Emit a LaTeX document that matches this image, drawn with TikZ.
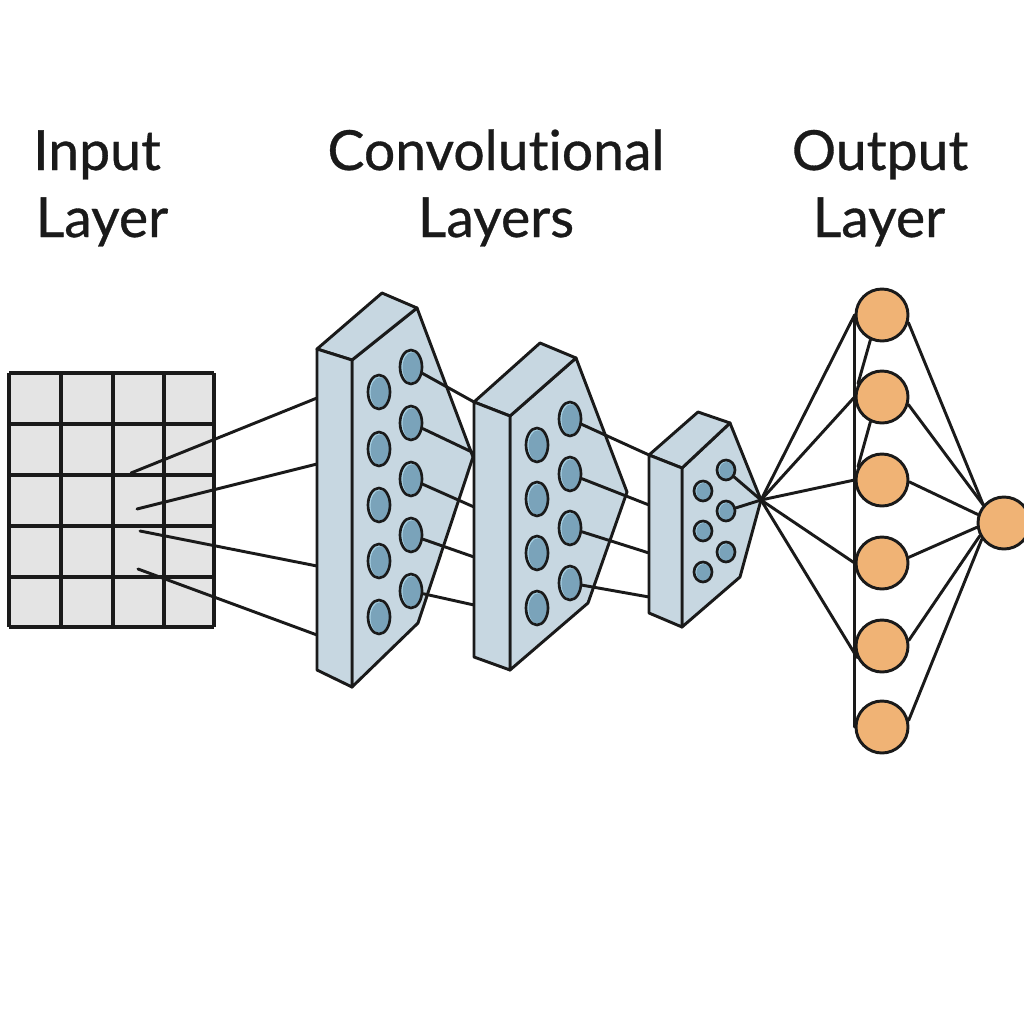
\documentclass[tikz,border=0pt]{standalone}
\usepackage{fontspec}
\setmainfont{Lato}[Ligatures={NoCommon,NoDiscretionary,NoContextual},FakeBold=0.6]
\usetikzlibrary{shapes.geometric}
\definecolor{face}{HTML}{C7D7E1}
\definecolor{cell}{HTML}{E4E4E4}
\definecolor{unitdark}{HTML}{7AA3BA}
\definecolor{unitrim}{HTML}{A9D3E6}
\definecolor{orng}{HTML}{F0B375}
\definecolor{ink}{HTML}{1A1A1A}
\begin{document}
\begin{tikzpicture}[x=0.75pt,y=-0.75pt,line join=round,
  blockface/.style={fill=face,draw=ink,line width=2.2pt},
  unitbig/.style={ellipse,draw=ink,line width=2pt,fill=unitrim,minimum width=16.5pt,minimum height=25.5pt,inner sep=0pt,
    path picture={\fill[unitdark] ([xshift=0.7pt,yshift=-0.5pt]path picture bounding box.center) ellipse [x radius=7pt,y radius=11.5pt];}},
  unitsmall/.style={ellipse,draw=ink,line width=2pt,fill=unitrim,minimum width=13.5pt,minimum height=15pt,inner sep=0pt,
    path picture={\fill[unitdark] ([xshift=0.6pt,yshift=-0.4pt]path picture bounding box.center) ellipse [x radius=5.6pt,y radius=6.4pt];}},
  neuron/.style={circle,draw=ink,line width=2.2pt,fill=orng,minimum size=39pt,inner sep=0pt},
  wire/.style={draw=ink,line width=2.2pt,line cap=round},
  gridline/.style={draw=ink,line width=2.4pt},
  title/.style={font=\fontsize{41.5}{48}\selectfont,text=ink,anchor=base,inner sep=0pt}]
\useasboundingbox (0,0) rectangle (1024,1024);
\clip (0,0) rectangle (1024,1024);
\fill[white] (0,0) rectangle (1024,1024);

% titles
\node[title] (tin1) at (97,170) {Input};
\node[title] (tin2) at (102,237) {Layer};
\node[title] (tcv1) at (496,170) {Convolutional};
\node[title] (tcv2) at (496,237) {Layers};
\node[title] (tout1) at (880,170) {Output};
\node[title] (tout2) at (879,237) {Layer};

% input grid
\fill[cell] (9,373) rectangle (214,627);
\foreach \gx in {9,61,113,164,214} \draw[gridline] (\gx,373) -- (\gx,627);
\foreach \gy in {373,424,475,526,577,627} \draw[gridline] (9,\gy) -- (214,\gy);

% grid wires
\coordinate (g1) at (131,473); \coordinate (a1) at (317,398);
\coordinate (g2) at (137,509); \coordinate (a2) at (317,464);
\coordinate (g3) at (140,531); \coordinate (a3) at (317,566);
\coordinate (g4) at (138,569); \coordinate (a4) at (317,635);
\foreach \i in {1,...,4} \draw[wire] (g\i) -- (a\i);

% conv block 1
\draw[blockface] (352,360) -- (417,308) -- (473,457) -- (418,623) -- (352,687) -- cycle;
\draw[blockface] (317,349) -- (382,293) -- (417,308) -- (352,360) -- cycle;
\draw[blockface] (317,349) -- (352,360) -- (352,687) -- (317,670) -- cycle;
\foreach \y [count=\i] in {392,449,505,561,617} \node[unitbig] (c1l\i) at (379,\y) {};
\foreach \y [count=\i] in {367,423,479,535,591} \node[unitbig] (c1r\i) at (411,\y) {};
\coordinate (b1) at (474,402);
\coordinate (b2) at (474,453);
\coordinate (b3) at (474,507);
\coordinate (b4) at (474,557);
\coordinate (b5) at (474,605);
\foreach \i in {1,...,5} \draw[wire] (c1r\i) -- (b\i);

% conv block 2
\draw[blockface] (510,416) -- (576,358) -- (627,492) -- (588,603) -- (510,670) -- cycle;
\draw[blockface] (474,402) -- (540,343) -- (576,358) -- (510,416) -- cycle;
\draw[blockface] (474,402) -- (510,416) -- (510,670) -- (474,657) -- cycle;
\foreach \y [count=\i] in {445,499,553,608} \node[unitbig] (c2l\i) at (537,\y) {};
\foreach \y [count=\i] in {419,474,528,583} \node[unitbig] (c2r\i) at (570,\y) {};
\coordinate (d1) at (649,455);
\coordinate (d2) at (649,505);
\coordinate (d3) at (649,553);
\coordinate (d4) at (649,597);
\foreach \i in {1,...,4} \draw[wire] (c2r\i) -- (d\i);

% conv block 3
\coordinate (hub) at (761,500);
\draw[blockface] (682,468) -- (730,423) -- (hub) -- (740,577) -- (682,627) -- cycle;
\draw[blockface] (649,455) -- (698,412) -- (730,423) -- (682,468) -- cycle;
\draw[blockface] (649,455) -- (682,468) -- (682,627) -- (649,613) -- cycle;
\foreach \y [count=\i] in {491,531,572} \node[unitsmall] (c3l\i) at (703,\y) {};
\foreach \y [count=\i] in {470,511,552} \node[unitsmall] (c3r\i) at (726,\y) {};
\draw[wire] (c3r1) -- (hub);
\draw[wire] (c3r2) -- (hub);

% output layer neurons
\foreach \y [count=\i] in {315,397,480,563,646,727} \node[neuron] (h\i) at (882,\y) {};
\node[neuron] (out) at (1004,523) {};

% hub fan-out
\draw[wire] (hub) -- (h1.west);
\draw[wire] (hub) -- (h2.west);
\draw[wire] (hub) -- (h3.west);
\draw[wire] (hub) -- (h4.west);
\draw[wire] (hub) -- (h5.205);
\draw[wire] (h1.west) -- (h6.west);
\draw[wire] (h1.245) -- (h2.151);
\draw[wire] (h2.245) -- (h3.151);

% to output neuron
\draw[wire] (h1.344) -- (out.139);
\draw[wire] (h2.344) -- (out.139);
\draw[wire] (h3.356) -- (out.162);
\draw[wire] (h4.12) -- (out.189);
\draw[wire] (h5.12) -- (out.208);
\draw[wire] (h6.14) -- (out.216);
\end{tikzpicture}
\end{document}
